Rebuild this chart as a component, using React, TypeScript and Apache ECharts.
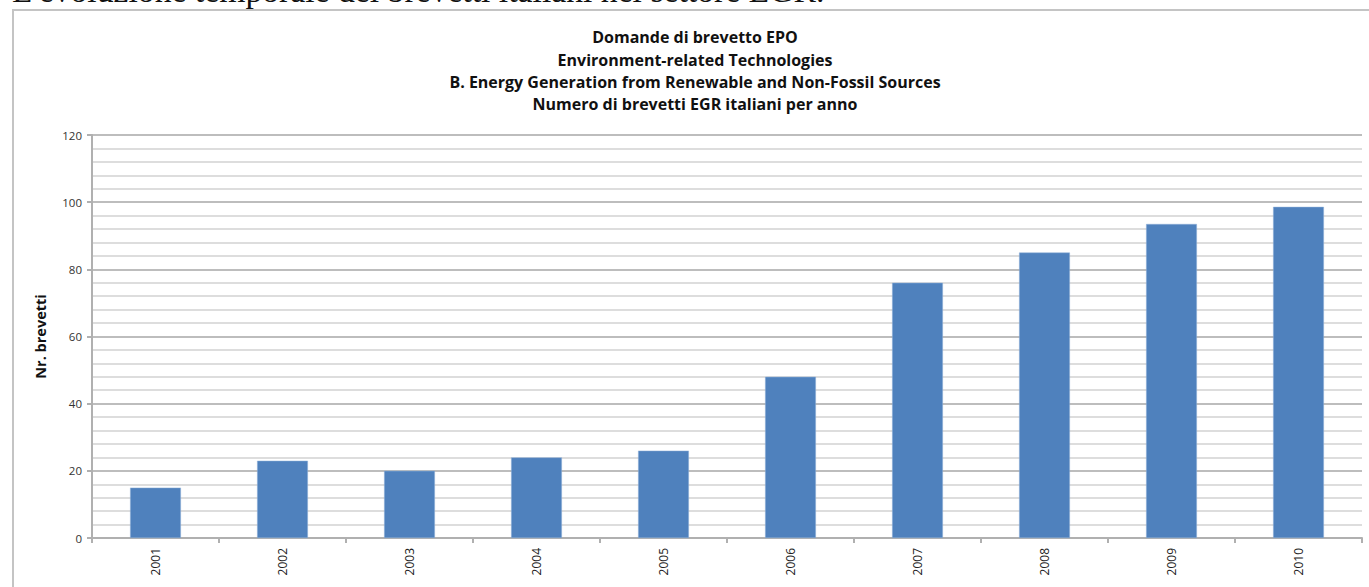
import React, { useEffect, useRef } from "react";
import * as echarts from "echarts";

const years = ["2001", "2002", "2003", "2004", "2005", "2006", "2007", "2008", "2009", "2010"];
const patents = [15, 23, 20, 24, 26, 48, 76, 85, 93.5, 98.6];
const titleLines = [
  "Domande di brevetto EPO",
  "Environment-related Technologies",
  "B. Energy Generation from Renewable and Non-Fossil Sources",
  "Numero di brevetti EGR italiani per anno",
];
const yAxisName = "Nr. brevetti";
const pageHeading = "L'evoluzione temporale dei brevetti italiani nel settore EGR.";

const FONT = "'Open Sans', Lato, sans-serif";

export default function App() {
  const ref = useRef<HTMLDivElement>(null);
  useEffect(() => {
    if (!ref.current) return;
    const chart = echarts.init(ref.current, null, { renderer: "svg" });
    chart.setOption({
      animation: false,
      backgroundColor: "#ffffff",
      title: {
        text: titleLines.join("\n"),
        left: 695,
        top: 26,
        padding: 0,
        textAlign: "center",
        textStyle: {
          fontFamily: FONT,
          fontSize: 16,
          fontWeight: "bold",
          color: "#111",
          lineHeight: 22.4,
        },
      },
      graphic: [
        {
          type: "rect",
          shape: { x: 13, y: 10, width: 1400, height: 620 },
          style: { fill: "none", stroke: "#c4c4c4", lineWidth: 2 },
          silent: true,
        },
        {
          type: "text",
          x: 12,
          y: -10,
          style: {
            text: pageHeading,
            font: "33.7px 'Liberation Serif', 'DejaVu Serif', serif",
            fill: "#111",
            verticalAlign: "middle",
            align: "left",
          },
          silent: true,
        },
      ],
      grid: { left: 92, right: 7, top: 135, bottom: 49, containLabel: false },
      xAxis: {
        type: "category",
        data: years,
        axisLine: { show: true, lineStyle: { color: "#b0b0b0", width: 2 } },
        axisTick: { show: true, alignWithLabel: false, length: 5, lineStyle: { color: "#b0b0b0", width: 2 } },
        axisLabel: {
          rotate: 90,
          margin: 10,
          fontFamily: FONT,
          fontSize: 12,
          color: "#222",
        },
      },
      yAxis: {
        type: "value",
        min: 0,
        max: 120,
        interval: 20,
        name: yAxisName,
        nameLocation: "middle",
        nameGap: 44,
        nameRotate: 90,
        nameTextStyle: { fontFamily: FONT, fontSize: 14.5, fontWeight: "bold", color: "#111" },
        axisLine: { show: true, lineStyle: { color: "#b0b0b0", width: 2 } },
        axisTick: { show: true, length: 5, lineStyle: { color: "#b0b0b0", width: 2 } },
        axisLabel: { fontFamily: FONT, fontSize: 11.5, color: "#333", margin: 10 },
        splitLine: { show: true, lineStyle: { color: "#bdbdbd", width: 2 } },
        minorTick: { show: false, splitNumber: 5 },
        minorSplitLine: { show: true, lineStyle: { color: "#dddddd", width: 2 } },
      },
      series: [
        {
          type: "bar",
          data: patents,
          barWidth: "40%",
          itemStyle: { color: "#4f81bd", borderColor: "#8fb0d8", borderWidth: 0.5 },
        },
      ],
    });
    return () => chart.dispose();
  }, []);
  return (
    <div
      ref={ref}
      style={{ position: "fixed", left: 0, top: 0, width: 1369, height: 587 }}
    />
  );
}
